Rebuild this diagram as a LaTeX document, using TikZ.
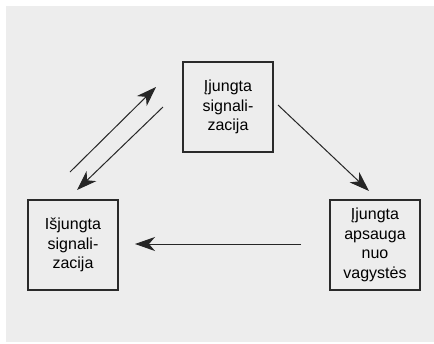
\documentclass[tikz,border=0pt]{standalone}
\usepackage{fontspec}
\setmainfont{Liberation Sans}
\usetikzlibrary{arrows.meta}
\definecolor{bg}{HTML}{EDEDED}
\definecolor{edge}{HTML}{2A2A2A}
\tikzset{
  statebox/.style={draw=edge, line width=1.4pt, fill=bg, minimum width=90pt, minimum height=90pt,
    inner sep=0pt, align=center, font=\fontsize{16}{19.5}\selectfont},
  flow/.style={draw=black!85, line width=1pt, -{Stealth[length=20pt,width=14pt,inset=6pt]}}
}
\begin{document}
\begin{tikzpicture}[x=1pt,y=-1pt]
\useasboundingbox (0,0) rectangle (434,343);
\fill[bg] (6,6) rectangle (434,342);
\node[statebox] (on) at (228,107) {Įjungta\\signali-\\zacija};
\node[statebox] (off) at (73,245) {Išjungta\\signali-\\zacija};
\node[statebox] (guard) at (375,245) {Įjungta\\apsauga\\nuo\\vagystės};
\coordinate (a1s) at (70,172);
\coordinate (a1e) at (156,87);
\coordinate (a2s) at (163,107);
\coordinate (a2e) at (77,190);
\coordinate (a3s) at (278,105);
\coordinate (a3e) at (369,191);
\coordinate (a4s) at (301,244);
\coordinate (a4e) at (135,244);
\draw[flow] (a1s) -- (a1e);
\draw[flow] (a2s) -- (a2e);
\draw[flow] (a3s) -- (a3e);
\draw[flow] (a4s) -- (a4e);
\end{tikzpicture}
\end{document}
